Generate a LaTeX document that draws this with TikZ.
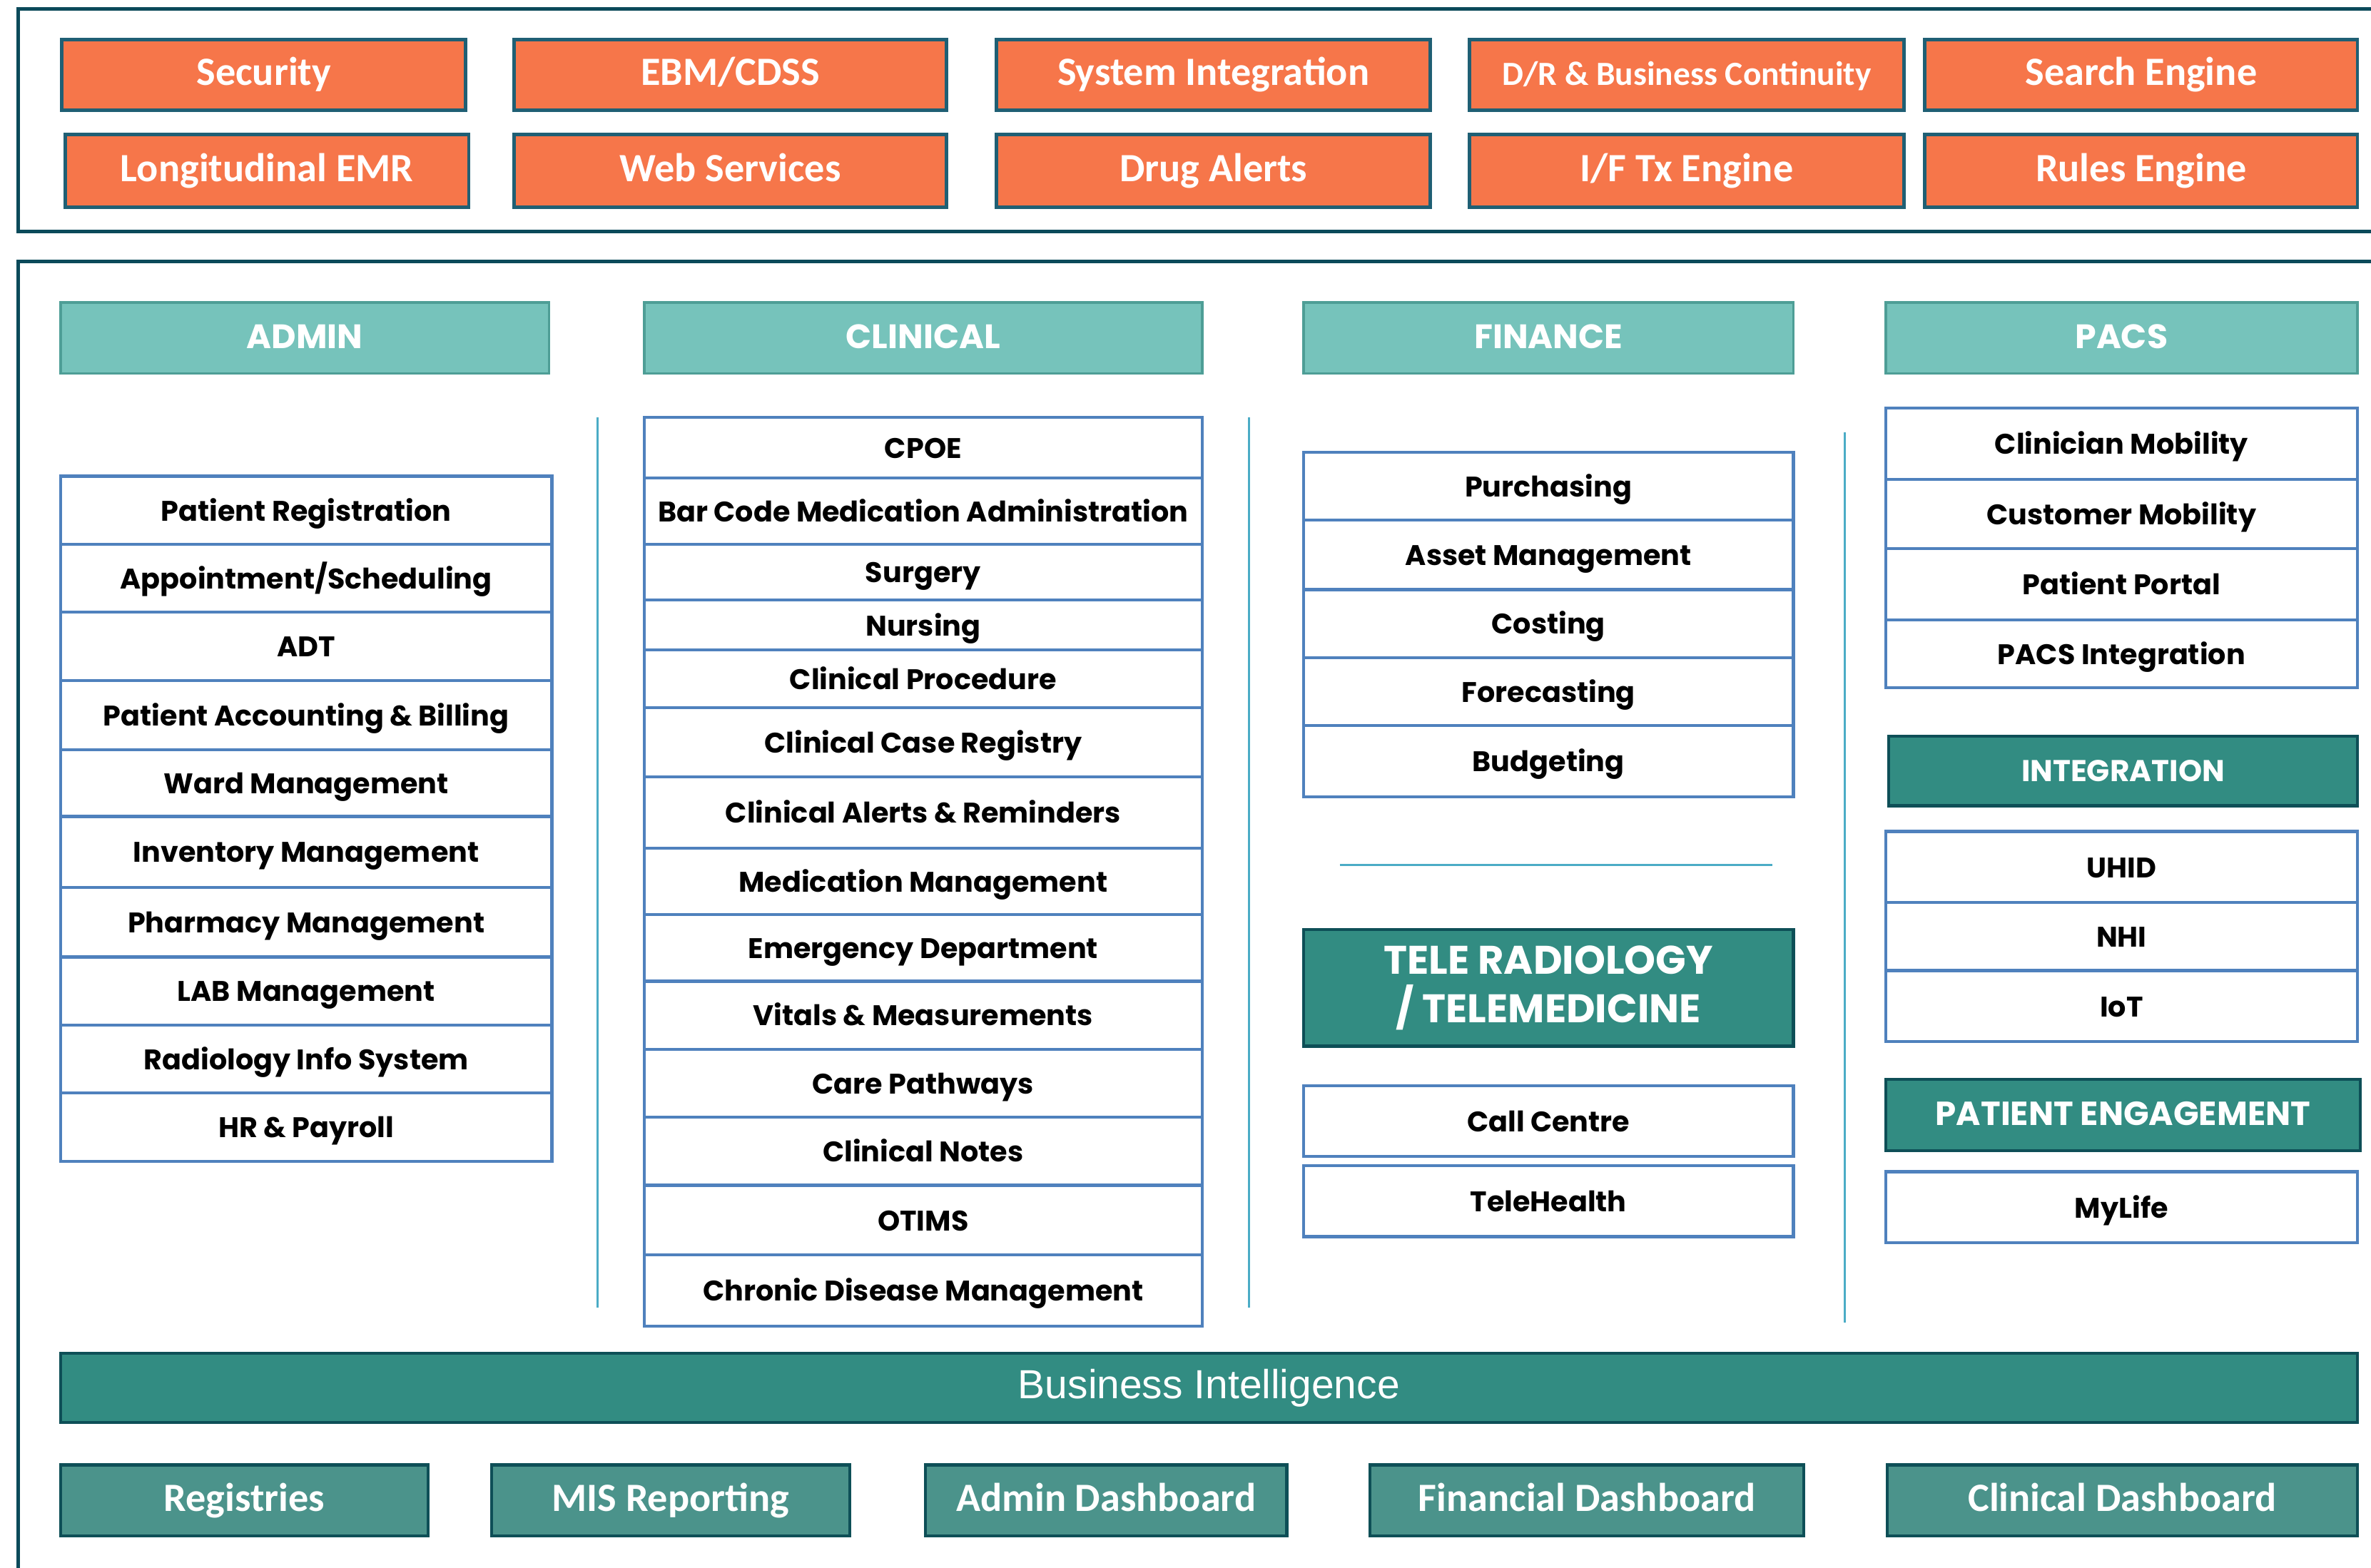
\documentclass[tikz,border=0pt]{standalone}
\usepackage{fontspec}
\setmainfont{Poppins}
\newfontfamily\calfont{Carlito}
\newfontfamily\arialfont{Liberation Sans}
\definecolor{frameteal}{HTML}{0B4A5A}
\definecolor{orangefill}{HTML}{F6764A}
\definecolor{orangeline}{HTML}{1F5F74}
\definecolor{headfill}{HTML}{76C3BB}
\definecolor{headline}{HTML}{4E9E96}
\definecolor{darkteal}{HTML}{328C82}
\definecolor{darkline}{HTML}{0E4F57}
\definecolor{midteal}{HTML}{4B938B}
\definecolor{cellline}{HTML}{4F81BD}
\definecolor{sepblue}{HTML}{4BACC6}
\newcommand{\pxu}{0.0212cm}
\newcommand{\blk}[7]{%
  \node[#1, minimum width={(#4-#3)*\pxu}, minimum height={(#6-#5)*\pxu}]
    (#2) at ({(#3+#4)/2},{(#5+#6)/2}) {#7};}
\tikzset{
  blk/.style={rectangle, inner sep=0pt, outer sep=0pt, align=center, text height=0.9em, text depth=0.06em},
  frame/.style={draw=frameteal, line width=1.5pt},
  orange/.style={blk, fill=orangefill, draw=orangeline, line width=1.4pt, text=white, font=\calfont\bfseries\fontsize{16}{18}\selectfont},
  head/.style={blk, fill=headfill, draw=headline, line width=1pt, text=white, font=\bfseries\fontsize{13.5}{15}\selectfont},
  band/.style={blk, fill=darkteal, draw=darkline, line width=1.2pt, text=white, font=\bfseries\fontsize{12}{14}\selectfont},
  cell/.style={blk, fill=white, draw=cellline, line width=1.2pt, font=\bfseries\fontsize{11.3}{13}\selectfont},
  report/.style={blk, fill=midteal, draw=darkline, line width=1.2pt, text=white, font=\calfont\bfseries\fontsize{16}{18}\selectfont},
  sep/.style={draw=sepblue, line width=0.9pt}
}
\begin{document}
\begin{tikzpicture}[x=0.0212cm, y=-0.0212cm]
\useasboundingbox (0,0) rectangle (1568,1037);
% outer frames
\draw[frame] (12,6) rectangle (1600,153);
\draw[frame] (12,173) rectangle (1600,1060);

% platform services
\foreach \lbl/\a/\b [count=\i] in {Security/41/308, {EBM/CDSS}/340/626, System Integration/659/946,
    {{\fontsize{13.5}{15}\selectfont D/R \& Business Continuity}}/972/1259, Search Engine/1273/1559}
  {\blk{orange}{srv\i}{\a}{\b}{26}{73}{\lbl}}
\foreach \lbl/\a/\b [count=\i] in {Longitudinal EMR/43/310, Web Services/340/626, Drug Alerts/659/946,
    {I/F Tx Engine}/972/1259, Rules Engine/1273/1559}
  {\blk{orange}{eng\i}{\a}{\b}{89}{137}{\lbl}}

% column headers
\blk{head}{admin}{40}{363}{200}{247}{ADMIN}
\blk{head}{clinical}{426}{795}{200}{247}{CLINICAL}
\blk{head}{finance}{862}{1186}{200}{247}{FINANCE}
\blk{head}{pacs}{1247}{1559}{200}{247}{PACS}

% separators
\draw[sep] (395,276) -- (395,865);
\draw[sep] (826,276) -- (826,865);
\draw[sep] (1220,286) -- (1220,875);
\draw[sep] (886,572) -- (1172,572);

% admin
\foreach \lbl/\a/\b [count=\i] in {Patient Registration/315/360, {Appointment/Scheduling}/360/405,
    ADT/405/450, Patient Accounting \& Billing/450/496, Ward Management/496/540,
    Inventory Management/540/587, Pharmacy Management/587/633, LAB Management/633/678,
    Radiology Info System/678/723, HR \& Payroll/723/768}
  {\blk{cell}{adm\i}{40}{365}{\a}{\b}{\lbl}}

% clinical
\foreach \lbl/\a/\b [count=\i] in {CPOE/276/316, Bar Code Medication Administration/316/360,
    Surgery/360/397, Nursing/397/430, Clinical Procedure/430/468, Clinical Case Registry/468/514,
    Clinical Alerts \& Reminders/514/561, Medication Management/561/605,
    Emergency Department/605/649, Vitals \& Measurements/649/694, Care Pathways/694/739,
    Clinical Notes/739/784, OTIMS/784/830, Chronic Disease Management/830/877}
  {\blk{cell}{cln\i}{426}{795}{\a}{\b}{\lbl}}

% finance
\foreach \lbl/\a/\b [count=\i] in {Purchasing/299/344, Asset Management/344/390,
    Costing/390/435, Forecasting/435/480, Budgeting/480/527}
  {\blk{cell}{fin\i}{862}{1186}{\a}{\b}{\lbl}}
\blk{band, text height={}, text depth={}, font=\bfseries\fontsize{15.9}{19.5}\selectfont}{tele}{862}{1186}{615}{692}{TELE RADIOLOGY\\/ TELEMEDICINE}
\blk{cell}{call}{862}{1186}{718}{765}{Call Centre}
\blk{cell}{telehealth}{862}{1186}{771}{818}{TeleHealth}

% pacs
\foreach \lbl/\a/\b [count=\i] in {Clinician Mobility/270/317, Customer Mobility/317/363,
    Patient Portal/363/410, PACS Integration/410/455}
  {\blk{cell}{pcs\i}{1247}{1559}{\a}{\b}{\lbl}}
\blk{band}{integration}{1249}{1559}{487}{533}{INTEGRATION}
\foreach \lbl/\a/\b [count=\i] in {UHID/550/597, NHI/597/642, IoT/642/689}
  {\blk{cell}{intg\i}{1247}{1559}{\a}{\b}{\lbl}}
\blk{band, font=\bfseries\fontsize{13.3}{15}\selectfont}{engage}{1247}{1561}{714}{761}{PATIENT ENGAGEMENT}
\blk{cell}{mylife}{1247}{1559}{775}{822}{MyLife}

% business intelligence
\blk{band, font=\arialfont\fontsize{16.2}{18}\selectfont}{bi}{40}{1559}{895}{941}{Business Intelligence}
\foreach \lbl/\a/\b [count=\i] in {Registries/40/283, MIS Reporting/325/562, Admin Dashboard/612/851,
    Financial Dashboard/906/1193, Clinical Dashboard/1248/1559}
  {\blk{report}{rep\i}{\a}{\b}{969}{1016}{\lbl}}
\end{tikzpicture}
\end{document}
